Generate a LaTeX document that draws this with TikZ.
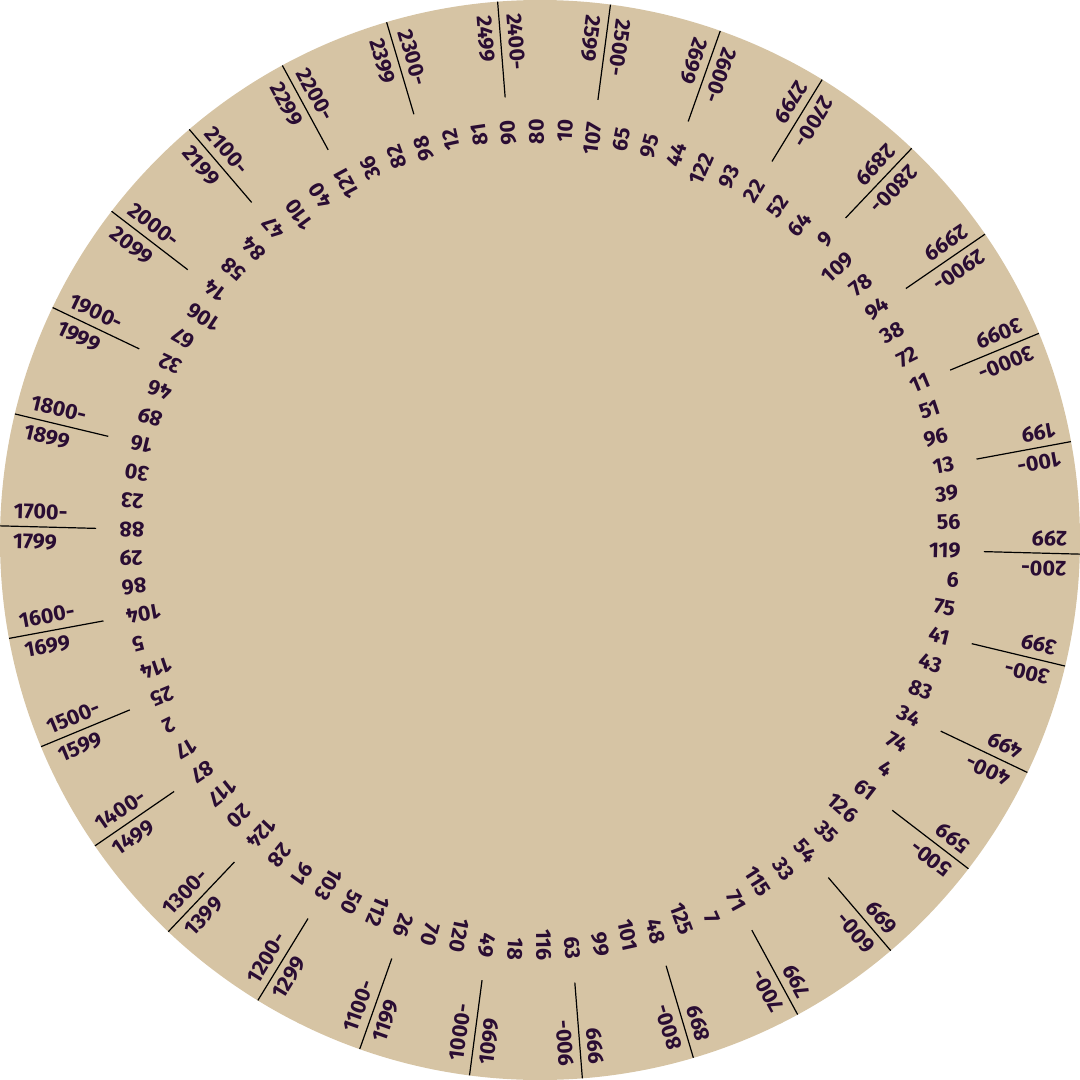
\documentclass[tikz,border=0pt]{standalone}
\usepackage{fontspec}
\setmainfont{Fira Sans}[Numbers={Lining,Proportional}]
\definecolor{disc}{HTML}{D6C4A4}
\definecolor{ink}{HTML}{2A0D33}
\begin{document}
\begin{tikzpicture}[x=1pt,y=1pt,
  num/.style={font=\fontsize{21.5}{21.5}\selectfont\bfseries, text=ink, inner sep=0pt},
  lab/.style={font=\fontsize{21.5}{30}\selectfont\bfseries, text=ink, inner sep=0pt, align=left},
  tickline/.style={draw=black, line width=1.2pt}]
\useasboundingbox (-540,-540) rectangle (540,540);
\fill[disc] (0,0) circle (540);
\foreach \v [count=\i from 0] in {80,10,107,65,95,44,122,93,22,52,64,9,109,78,94,38,72,11,51,96,13,39,56,119,6,75,41,43,83,34,74,4,61,126,35,54,33,115,71,7,125,48,101,99,63,116,18,49,120,70,26,112,50,103,91,28,124,20,117,87,17,2,25,114,5,104,86,29,88,23,30,16,89,46,32,67,106,14,58,84,47,110,40,121,36,82,98,12,81,90} {
  \pgfmathsetmacro\a{90.5-4*\i}
  \node[num, anchor=east, rotate=\a] (n\i) at (\a:421) {\v};
}
\foreach \k in {1,...,30} {
  \pgfmathsetmacro\a{10.5-12*(\k-1)}
  \pgfmathtruncatemacro\lo{\k*100}
  \pgfmathtruncatemacro\hi{\k*100+99}
  \coordinate (ti\k) at (\a:444);
  \coordinate (to\k) at (\a:540);
  \draw[tickline] (ti\k) -- (to\k);
  \node[lab, anchor=west, rotate=\a+180] (o\k) at (\a:527) {\lo-\\\hi};
}
\end{tikzpicture}
\end{document}
